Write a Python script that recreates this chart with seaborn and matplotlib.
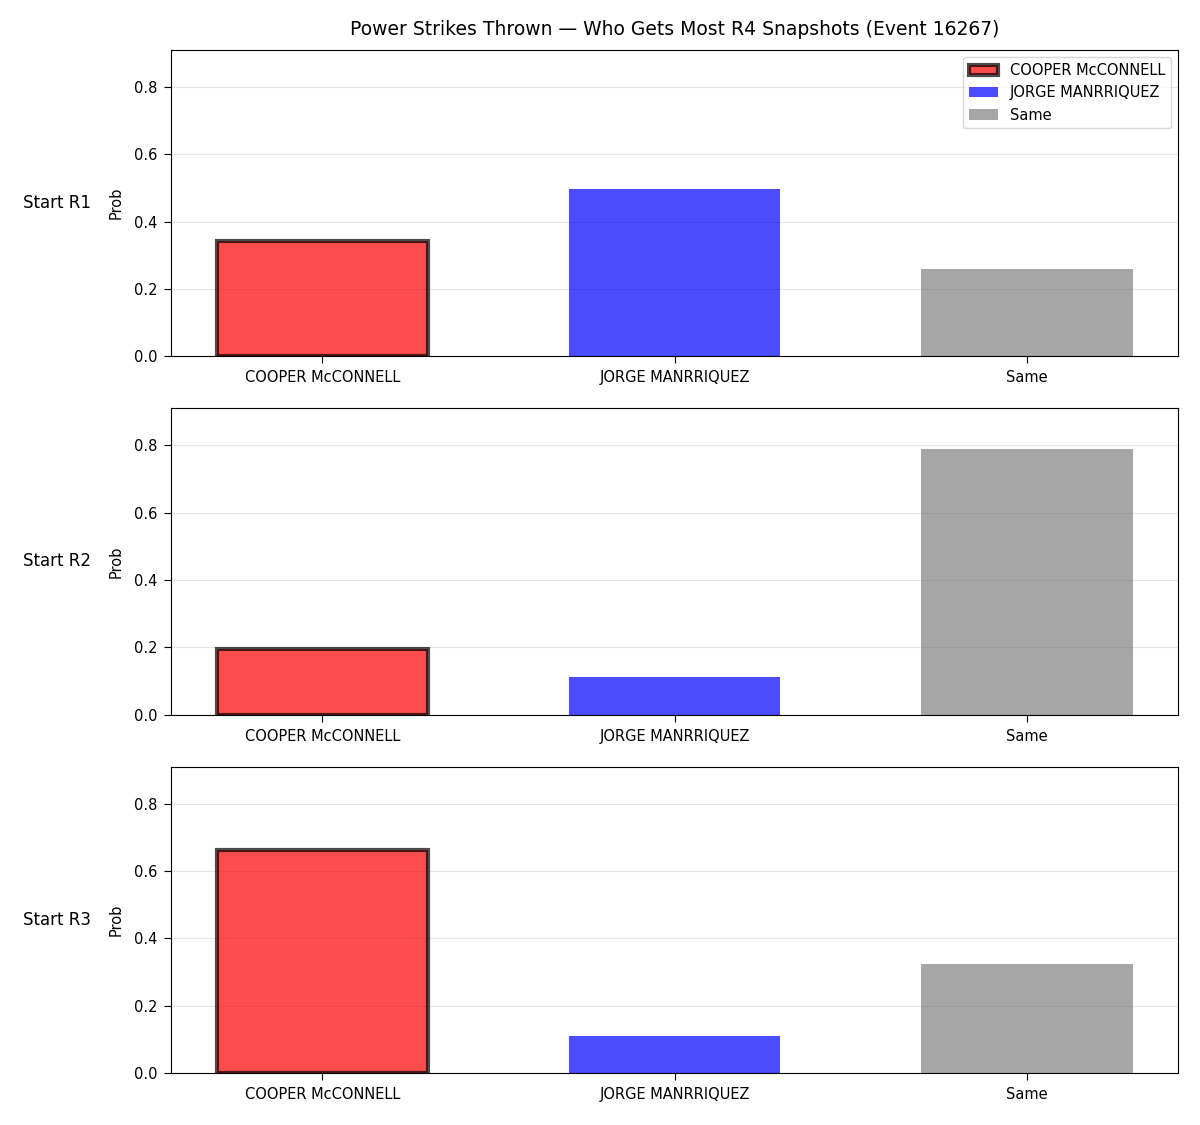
import seaborn as sns
import matplotlib.pyplot as plt
import pandas as pd

# outcome categories and colours
outcomes = ["COOPER McCONNELL", "JORGE MANRRIQUEZ", "Same"]
colors = ["red", "blue", "gray"]

# probabilities per starting round
start_rounds = ["Start R1", "Start R2", "Start R3"]
prob_r1 = [0.342, 0.497, 0.259]
prob_r2 = [0.196, 0.113, 0.788]
prob_r3 = [0.663, 0.110, 0.324]

title = "Power Strikes Thrown \u2014 Who Gets Most R4 Snapshots (Event 16267)"

fig, axes = plt.subplots(3, 1, figsize=(12, 11.25), dpi=100)
fig.subplots_adjust(left=0.1425, right=0.982, top=0.9556, bottom=0.0462, hspace=0.17)

all_probs = [prob_r1, prob_r2, prob_r3]
ymax = max(max(p) for p in all_probs) * 1.155

for i, (ax, label, probs) in enumerate(zip(axes, start_rounds, all_probs)):
    df = pd.DataFrame({"outcome": outcomes, "prob": probs})
    sns.barplot(data=df, x="outcome", y="prob", hue="outcome",
                palette=dict(zip(outcomes, colors)), alpha=0.7, saturation=1,
                width=0.6, legend=False, ax=ax)
    # highlight the favourite
    for bar in ax.containers[0]:
        bar.set_edgecolor((0, 0, 0, 0.7))
        bar.set_linewidth(3)
    for c in ax.containers[1:]:
        for bar in c:
            bar.set_edgecolor("none")
    ax.set_xlim(-0.43, 2.43)
    ax.set_ylim(0, ymax)
    ax.set_xlabel("")
    ax.set_ylabel("Prob", fontsize=10.5, labelpad=7)
    ax.yaxis.grid(True, color="#e6e6e6", linewidth=0.8)
    ax.set_axisbelow(True)
    ax.tick_params(labelsize=10.5, length=5, pad=5)
    ax.text(-0.113, 0.5, label, transform=ax.transAxes, ha="center",
            va="center", fontsize=12)
    if i == 0:
        ax.set_title(title, fontsize=13.5, pad=11)
        handles = [c[0] for c in ax.containers]
        ax.legend(handles, outcomes, loc="upper right", fontsize=10.5)

fig.savefig("out.png", dpi=100)
